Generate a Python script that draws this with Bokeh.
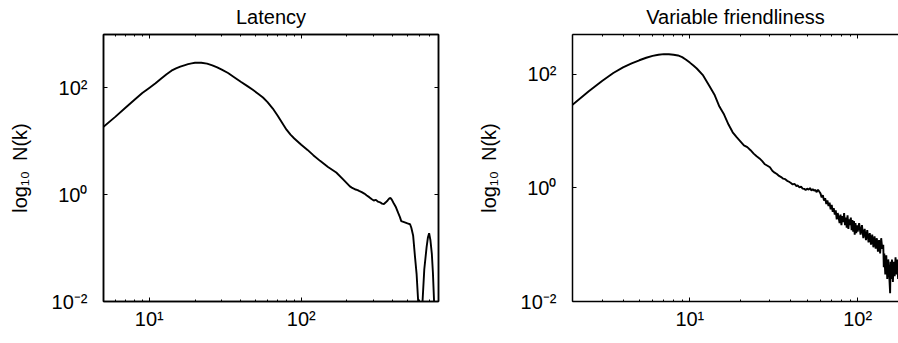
from bokeh.plotting import figure
from bokeh.models import Range1d, LogAxis, FixedTicker
from bokeh.layouts import row
from bokeh.embed import file_html
from bokeh.resources import INLINE

# ---------------- data ----------------
latency_k = [5, 6, 7, 8, 9, 10, 11, 12, 13, 14, 15, 16, 17, 18, 19, 20, 21, 22, 24, 26,
             28, 30, 33, 36, 40, 44, 48, 52, 56, 60, 65, 70, 75, 80, 85, 90, 100, 110,
             120, 133, 150, 170, 190, 200, 209, 215, 220, 228, 235, 240, 250, 260, 270,
             280, 290, 300, 310, 320, 330, 340, 350, 360, 370, 380, 387, 395, 405, 420,
             435, 446, 455, 470, 485, 500, 520, 530, 545, 560, 574, 588, 600, 614, 628,
             645, 668, 682, 694, 708, 723, 735, 748, 765, 780]
latency_n = [18.7, 29, 43, 60, 80, 100, 122, 150, 180, 210, 232, 250, 265, 278, 288, 295,
             297, 296, 285, 265, 242, 220, 190, 160, 130, 109, 92, 78, 66, 54, 41, 30, 22,
             16.5, 13.3, 11.3, 8.6, 6.9, 5.5, 4.3, 3.3, 2.6, 1.9, 1.63, 1.43, 1.36, 1.31,
             1.25, 1.22, 1.18, 1.12, 1.05, 0.97, 0.9, 0.83, 0.78, 0.8, 0.74, 0.72, 0.68,
             0.67, 0.72, 0.78, 0.85, 0.87, 0.8, 0.7, 0.58, 0.45, 0.38, 0.32, 0.31, 0.3,
             0.29, 0.28, 0.24, 0.17, 0.07, 0.033, 0.01, 0.004, 0.003, 0.01, 0.04, 0.104,
             0.16, 0.19, 0.14, 0.079, 0.035, 0.01, 0.002, 0.0007]

friend_k_a = [2, 2.5, 3, 3.5, 4, 4.5, 5, 5.5, 6, 6.5, 7, 7.5, 8, 8.5, 9, 9.5, 10, 10.5,
              11, 12, 13, 14, 15, 16, 17, 18, 19, 20, 21, 22, 23, 24, 25, 26, 27, 28,
              29, 30, 31, 32, 33, 34, 35, 36, 37, 38, 39]
friend_n_a = [28.9, 50, 76, 105, 132, 155, 176, 195, 210, 220, 226, 225, 220, 214, 200,
              180, 160, 142, 126, 95, 64, 44, 27, 19.5, 13, 9.5, 7.8, 6.6, 5.6, 5.2, 4.6,
              4.0, 3.6, 3.3, 2.95, 2.6, 2.45, 2.3, 2.0, 1.85, 1.75, 1.62, 1.55, 1.45,
              1.42, 1.33, 1.28]
friend_k_b = [40, 41, 42, 43, 44, 45, 46, 47, 48, 49, 50, 51, 52, 53, 54, 55, 56, 57, 58,
              59]
friend_n_b = [1.22, 1.15, 1.18, 1.08, 1.1, 1.02, 1.05, 0.97, 0.96, 0.92, 0.97, 0.93,
              0.99, 0.9, 0.95, 0.89, 0.92, 0.84, 0.93, 0.86]
friend_k_c = [60, 61, 62, 63, 64, 65, 66, 67, 68, 69, 70, 71, 72, 73, 74, 75, 76, 77, 78,
              79, 80, 81, 82, 83, 84, 85, 86, 87, 88, 89, 90, 91, 92, 93, 94, 95, 96, 97,
              98, 99]
friend_n_c = [0.8, 0.68, 0.74, 0.6, 0.66, 0.52, 0.6, 0.48, 0.55, 0.42, 0.5, 0.38, 0.44,
              0.34, 0.4, 0.28, 0.36, 0.3, 0.24, 0.34, 0.22, 0.32, 0.25, 0.36, 0.22, 0.3,
              0.2, 0.33, 0.19, 0.28, 0.22, 0.3, 0.18, 0.27, 0.17, 0.26, 0.15, 0.24, 0.16,
              0.22]
friend_k_d = [100, 102, 104, 106, 108, 110, 112, 114, 116, 118, 120, 122, 124, 126, 128,
              130, 132, 134, 136, 138, 140]
friend_n_d = [0.17, 0.24, 0.15, 0.22, 0.13, 0.19, 0.12, 0.18, 0.11, 0.16, 0.1, 0.15,
              0.09, 0.14, 0.085, 0.13, 0.075, 0.12, 0.07, 0.13, 0.085]
friend_k_e = [142, 143, 144, 146, 148, 150, 152, 154, 156, 157, 158, 160, 162, 164, 166,
              168, 170, 172, 174, 176, 178, 180, 185, 190, 195, 200]
friend_n_e = [0.1, 0.04, 0.07, 0.03, 0.065, 0.025, 0.055, 0.03, 0.014, 0.05, 0.025,
              0.055, 0.022, 0.05, 0.028, 0.06, 0.03, 0.055, 0.025, 0.05, 0.03, 0.05,
              0.03, 0.045, 0.025, 0.04]
friend_k = friend_k_a + friend_k_b + friend_k_c + friend_k_d + friend_k_e
friend_n = friend_n_a + friend_n_b + friend_n_c + friend_n_d + friend_n_e

titles = ["Latency", "Variable friendliness"]
ylabel = "log₁₀\u2002N(k)"

y_major = [0.01, 1, 100]
y_major_labels = ["10⁻²", "10⁰", "10²"]
x_major = [1, 10, 100, 1000]
x_major_labels = ["10⁰", "10¹", "10²", "10³"]
x_minor = [m * d for d in (1, 10, 100) for m in range(2, 10)]

FONT = "Liberation Sans"
FS = "20px"


def style_axis(ax, ticker, overrides, show_labels, standoff):
    ax.ticker = ticker
    ax.axis_line_color = "black"
    ax.axis_line_width = 1.5
    ax.major_tick_line_color = "black"
    ax.minor_tick_line_color = "black"
    ax.major_tick_in = 4
    ax.major_tick_out = 0
    ax.minor_tick_in = 2
    ax.minor_tick_out = 0
    ax.major_label_standoff = standoff
    if show_labels:
        ax.major_label_overrides = overrides
        ax.major_label_text_font = FONT
        ax.major_label_text_font_size = FS
        ax.major_label_text_color = "black"
    else:
        ax.major_label_text_font_size = "1px"
        ax.major_label_text_alpha = 0
        ax.major_label_standoff = 0


def make_panel(xs, ys, title, xr, yr, border_left, border_right, box_right):
    p = figure(width=449, height=343, x_axis_type="log", y_axis_type="log",
               x_range=xr, y_range=yr, title=title, tools="",
               toolbar_location=None, output_backend="svg",
               min_border_left=border_left, min_border_right=border_right,
               min_border_top=34, min_border_bottom=42)
    p.background_fill_color = "white"
    p.border_fill_color = "white"
    p.xgrid.grid_line_color = None
    p.ygrid.grid_line_color = None
    p.outline_line_color = "black" if box_right else None
    p.outline_line_width = 1.5

    p.title.align = "center"
    p.title.vertical_align = "top"
    p.title.text_font = FONT
    p.title.text_font_size = FS
    p.title.text_font_style = "normal"
    p.title.text_color = "black"
    p.title.standoff = 10

    xt = FixedTicker(ticks=x_major, minor_ticks=x_minor)
    yt = FixedTicker(ticks=y_major, minor_ticks=[])
    x_over = dict(zip(x_major, x_major_labels))
    y_over = dict(zip(y_major, y_major_labels))

    style_axis(p.xaxis[0], xt, x_over, True, 6)
    style_axis(p.yaxis[0], yt, y_over, True, 16)
    yax = p.yaxis[0]
    yax.axis_label = ylabel
    yax.axis_label_text_font = FONT
    yax.axis_label_text_font_size = FS
    yax.axis_label_text_font_style = "normal"
    yax.axis_label_text_color = "black"
    yax.axis_label_standoff = 18

    top = LogAxis()
    style_axis(top, FixedTicker(ticks=x_major, minor_ticks=x_minor), x_over, False, 0)
    p.add_layout(top, "above")
    if box_right:
        rt = LogAxis()
        style_axis(rt, FixedTicker(ticks=y_major, minor_ticks=[]), y_over, False, 0)
        p.add_layout(rt, "right")

    p.line(xs, ys, line_color="black", line_width=1.9)
    return p


p1 = make_panel(latency_k, latency_n, titles[0], Range1d(5, 800), Range1d(0.01, 1000),
                103, 11, True)
p2 = make_panel(friend_k, friend_n, titles[1], Range1d(2, 175), Range1d(0.01, 500),
                123, 0, False)

layout = row(p1, p2)
open("out.html", "w").write(file_html(layout, INLINE))
